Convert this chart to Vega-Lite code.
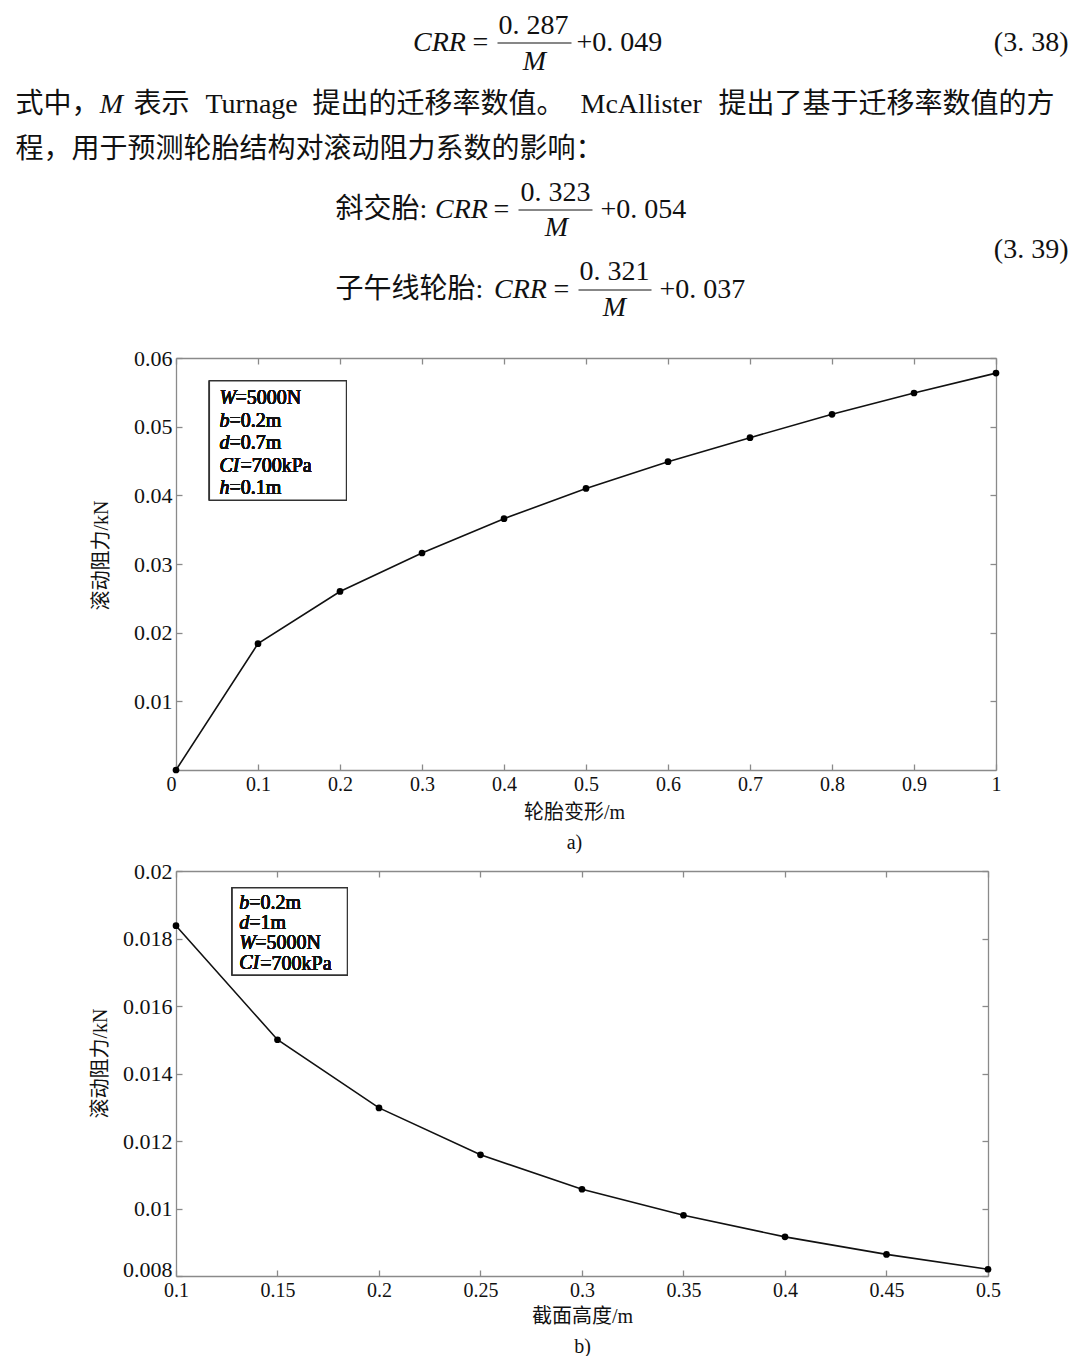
{
  "$schema": "https://vega.github.io/schema/vega-lite/v6.json",
  "background": "white",
  "padding": {"left": 15, "top": 0, "right": 0, "bottom": 0},
  "autosize": {"type": "pad"},
  "bounds": "flush",
  "spacing": 101,
  "datasets": {
    "page": [
      {"t": "CRR", "x": 439, "y": 43, "role": "var"},
      {"t": "M", "x": 534, "y": 62, "role": "var"},
      {"t": "M", "x": 111, "y": 105, "role": "var"},
      {"t": "CRR", "x": 461, "y": 210, "role": "var"},
      {"t": "M", "x": 556, "y": 228, "role": "var"},
      {"t": "CRR", "x": 520, "y": 290, "role": "var"},
      {"t": "M", "x": 614, "y": 308, "role": "var"},
      {"t": "=", "x": 480, "y": 43, "role": "mid"},
      {"t": "0. 287", "x": 533, "y": 26, "role": "mid"},
      {"t": "=", "x": 501, "y": 210, "role": "mid"},
      {"t": "0. 323", "x": 555, "y": 193, "role": "mid"},
      {"t": "=", "x": 561, "y": 290, "role": "mid"},
      {"t": "0. 321", "x": 614, "y": 272, "role": "mid"},
      {"t": "+0. 049", "x": 576, "y": 43, "role": "start"},
      {"t": "+0. 054", "x": 600, "y": 210, "role": "start"},
      {"t": "+0. 037", "x": 659, "y": 290, "role": "start"},
      {"t": "式中，", "x": 15, "y": 105, "role": "start"},
      {"t": "表示", "x": 133, "y": 105, "role": "start"},
      {"t": "Turnage", "x": 205, "y": 105, "role": "start"},
      {"t": "提出的迁移率数值。", "x": 312, "y": 105, "role": "start"},
      {"t": "McAllister", "x": 580, "y": 105, "role": "start"},
      {"t": "提出了基于迁移率数值的方", "x": 718, "y": 105, "role": "start"},
      {"t": "程，用于预测轮胎结构对滚动阻力系数的影响：", "x": 15, "y": 150, "role": "start"},
      {"t": "斜交胎:", "x": 335, "y": 210, "role": "start"},
      {"t": "子午线轮胎:", "x": 335, "y": 290, "role": "start"},
      {"t": "(3. 38)", "x": 1068, "y": 43, "role": "end"},
      {"t": "(3. 39)", "x": 1068, "y": 250, "role": "end"}
    ],
    "bars": [
      {"x": 497, "x2": 571, "y": 43},
      {"x": 518, "x2": 592, "y": 210},
      {"x": 578, "x2": 651, "y": 290}
    ]
  },
  "vconcat": [
    {
      "width": 820,
      "height": 257,
      "encoding": {
        "x": {"field": "x", "type": "quantitative", "scale": {"domain": [175.5, 995.5], "nice": false, "zero": false}, "axis": null},
        "y": {"field": "y", "type": "quantitative", "scale": {"domain": [0, 257], "reverse": true, "nice": false, "zero": false}, "axis": null}
      },
      "layer": [
        {
          "data": {"name": "page"},
          "transform": [{"filter": "datum.role === 'var'"}],
          "mark": {"type": "text", "align": "center", "baseline": "middle", "font": "Liberation Serif", "fontStyle": "italic", "fontSize": 28, "color": "#111"},
          "encoding": {"text": {"field": "t"}}
        },
        {
          "data": {"name": "page"},
          "transform": [{"filter": "datum.role === 'mid'"}],
          "mark": {"type": "text", "align": "center", "baseline": "middle", "font": "Liberation Serif, Noto Sans CJK SC", "fontSize": 28, "color": "#111"},
          "encoding": {"text": {"field": "t"}}
        },
        {
          "data": {"name": "page"},
          "transform": [{"filter": "datum.role === 'start'"}],
          "mark": {"type": "text", "align": "left", "baseline": "middle", "font": "Liberation Serif, Noto Sans CJK SC", "fontSize": 28, "color": "#111"},
          "encoding": {"text": {"field": "t"}}
        },
        {
          "data": {"name": "page"},
          "transform": [{"filter": "datum.role === 'end'"}],
          "mark": {"type": "text", "align": "right", "baseline": "middle", "font": "Liberation Serif, Noto Sans CJK SC", "fontSize": 28, "color": "#111"},
          "encoding": {"text": {"field": "t"}}
        },
        {
          "data": {"name": "bars"},
          "mark": {"type": "rule", "color": "#111", "strokeWidth": 1.2},
          "encoding": {"x2": {"field": "x2"}}
        }
      ]
    },
    {
      "width": 820,
      "height": 412,
      "data": {"values": [
        {"d": 0, "f": 0},
        {"d": 0.1, "f": 0.0184},
        {"d": 0.2, "f": 0.0260},
        {"d": 0.3, "f": 0.0316},
        {"d": 0.4, "f": 0.0366},
        {"d": 0.5, "f": 0.0410},
        {"d": 0.6, "f": 0.0449},
        {"d": 0.7, "f": 0.0484},
        {"d": 0.8, "f": 0.0518},
        {"d": 0.9, "f": 0.0549},
        {"d": 1.0, "f": 0.0578}
      ]},
      "layer": [
        {
          "mark": {"type": "line", "color": "#111", "strokeWidth": 1.6},
          "encoding": {
            "x": {"field": "d", "type": "quantitative", "scale": {"domain": [0, 1], "nice": false, "zero": false},
                  "axis": {"values": [0, 0.1, 0.2, 0.3, 0.4, 0.5, 0.6, 0.7, 0.8, 0.9, 1], "format": "~g", "title": ["轮胎变形/m", "a)"], "titleX": 398, "titleLineHeight": 30, "titlePadding": 8,
                           "labelAlign": {"condition": {"test": "datum.value === 0", "value": "right"}, "value": "center"}}},
            "y": {"field": "f", "type": "quantitative", "scale": {"domain": [0, 0.06], "nice": false, "zero": false},
                  "axis": {"values": [0.01, 0.02, 0.03, 0.04, 0.05, 0.06], "format": ".2~f", "title": "滚动阻力/kN", "titleY": 197, "titlePadding": 22}}
          }
        },
        {
          "mark": {"type": "point", "filled": true, "color": "#000", "size": 45, "opacity": 1},
          "encoding": {
            "x": {"field": "d", "type": "quantitative", "axis": {"orient": "top", "labels": false, "title": null, "values": [0, 0.1, 0.2, 0.3, 0.4, 0.5, 0.6, 0.7, 0.8, 0.9, 1]}},
            "y": {"field": "f", "type": "quantitative", "axis": {"orient": "right", "labels": false, "title": null, "values": [0.01, 0.02, 0.03, 0.04, 0.05, 0.06]}}
          }
        },
        {
          "mark": {"type": "rect", "fill": "white", "stroke": "#333", "strokeWidth": 1.2},
          "encoding": {
            "x": {"datum": 0.0408, "type": "quantitative", "axis": null},
            "x2": {"datum": 0.2078},
            "y": {"datum": 0.05665, "type": "quantitative", "axis": null},
            "y2": {"datum": 0.03932}
          }
        },
        {
          "mark": {"type": "text", "align": "left", "baseline": "top", "font": "Liberation Serif", "fontStyle": "italic", "fontSize": 20, "lineHeight": 22.5, "color": "#111"},
          "encoding": {
            "x": {"datum": 0.053, "type": "quantitative", "axis": null},
            "y": {"datum": 0.0556, "type": "quantitative", "axis": null},
            "text": {"value": ["W", "b", "d", "CI", "h"]}
          }
        },
        {
          "mark": {"type": "text", "align": "left", "baseline": "top", "dx": 16, "font": "Liberation Serif", "fontSize": 20, "color": "#111"},
          "encoding": {
            "x": {"datum": 0.053, "type": "quantitative", "axis": null},
            "y": {"datum": 0.0556, "type": "quantitative", "axis": null},
            "text": {"value": "=5000N"}
          }
        },
        {
          "mark": {"type": "text", "align": "left", "baseline": "top", "dx": 10, "font": "Liberation Serif", "fontSize": 20, "color": "#111"},
          "encoding": {
            "x": {"datum": 0.053, "type": "quantitative", "axis": null},
            "y": {"datum": 0.052323, "type": "quantitative", "axis": null},
            "text": {"value": "=0.2m"}
          }
        },
        {
          "mark": {"type": "text", "align": "left", "baseline": "top", "dx": 10, "font": "Liberation Serif", "fontSize": 20, "color": "#111"},
          "encoding": {
            "x": {"datum": 0.053, "type": "quantitative", "axis": null},
            "y": {"datum": 0.049047, "type": "quantitative", "axis": null},
            "text": {"value": "=0.7m"}
          }
        },
        {
          "mark": {"type": "text", "align": "left", "baseline": "top", "dx": 21, "font": "Liberation Serif", "fontSize": 20, "color": "#111"},
          "encoding": {
            "x": {"datum": 0.053, "type": "quantitative", "axis": null},
            "y": {"datum": 0.04577, "type": "quantitative", "axis": null},
            "text": {"value": "=700kPa"}
          }
        },
        {
          "mark": {"type": "text", "align": "left", "baseline": "top", "dx": 10, "font": "Liberation Serif", "fontSize": 20, "color": "#111"},
          "encoding": {
            "x": {"datum": 0.053, "type": "quantitative", "axis": null},
            "y": {"datum": 0.042493, "type": "quantitative", "axis": null},
            "text": {"value": "=0.1m"}
          }
        }
      ],
      "resolve": {"axis": {"x": "independent", "y": "independent"}}
    },
    {
      "width": 812,
      "height": 405,
      "data": {"values": [
        {"h": 0.1, "f": 0.01838},
        {"h": 0.15, "f": 0.01500},
        {"h": 0.2, "f": 0.01298},
        {"h": 0.25, "f": 0.01159},
        {"h": 0.3, "f": 0.01057},
        {"h": 0.35, "f": 0.00980},
        {"h": 0.4, "f": 0.00916},
        {"h": 0.45, "f": 0.00864},
        {"h": 0.5, "f": 0.00820}
      ]},
      "layer": [
        {
          "mark": {"type": "line", "color": "#111", "strokeWidth": 1.6},
          "encoding": {
            "x": {"field": "h", "type": "quantitative", "scale": {"domain": [0.1, 0.5], "nice": false, "zero": false},
                  "axis": {"values": [0.1, 0.15, 0.2, 0.25, 0.3, 0.35, 0.4, 0.45, 0.5], "format": "~g", "title": ["截面高度/m", "b)"], "titleLineHeight": 30, "titlePadding": 6}},
            "y": {"field": "f", "type": "quantitative", "scale": {"domain": [0.008, 0.02], "nice": false, "zero": false},
                  "axis": {"values": [0.008, 0.01, 0.012, 0.014, 0.016, 0.018, 0.02], "format": ".3~f", "title": "滚动阻力/kN", "titleY": 192, "titlePadding": 12,
                           "labelBaseline": {"condition": {"test": "datum.value < 0.009", "value": "alphabetic"}, "value": "middle"}}}
          }
        },
        {
          "mark": {"type": "point", "filled": true, "color": "#000", "size": 45, "opacity": 1},
          "encoding": {
            "x": {"field": "h", "type": "quantitative", "axis": {"orient": "top", "labels": false, "title": null, "values": [0.1, 0.15, 0.2, 0.25, 0.3, 0.35, 0.4, 0.45, 0.5]}},
            "y": {"field": "f", "type": "quantitative", "axis": {"orient": "right", "labels": false, "title": null, "values": [0.008, 0.01, 0.012, 0.014, 0.016, 0.018, 0.02]}}
          }
        },
        {
          "mark": {"type": "rect", "fill": "white", "stroke": "#333", "strokeWidth": 1.2},
          "encoding": {
            "x": {"datum": 0.1277, "type": "quantitative", "axis": null},
            "x2": {"datum": 0.1844},
            "y": {"datum": 0.01950, "type": "quantitative", "axis": null},
            "y2": {"datum": 0.01692}
          }
        },
        {
          "mark": {"type": "text", "align": "left", "baseline": "top", "font": "Liberation Serif", "fontStyle": "italic", "fontSize": 20, "lineHeight": 20.3, "color": "#111"},
          "encoding": {
            "x": {"datum": 0.1312, "type": "quantitative", "axis": null},
            "y": {"datum": 0.01936, "type": "quantitative", "axis": null},
            "text": {"value": ["b", "d", "W", "CI"]}
          }
        },
        {
          "mark": {"type": "text", "align": "left", "baseline": "top", "dx": 10, "font": "Liberation Serif", "fontSize": 20, "color": "#111"},
          "encoding": {
            "x": {"datum": 0.1312, "type": "quantitative", "axis": null},
            "y": {"datum": 0.01936, "type": "quantitative", "axis": null},
            "text": {"value": "=0.2m"}
          }
        },
        {
          "mark": {"type": "text", "align": "left", "baseline": "top", "dx": 10, "font": "Liberation Serif", "fontSize": 20, "color": "#111"},
          "encoding": {
            "x": {"datum": 0.1312, "type": "quantitative", "axis": null},
            "y": {"datum": 0.018758, "type": "quantitative", "axis": null},
            "text": {"value": "=1m"}
          }
        },
        {
          "mark": {"type": "text", "align": "left", "baseline": "top", "dx": 16, "font": "Liberation Serif", "fontSize": 20, "color": "#111"},
          "encoding": {
            "x": {"datum": 0.1312, "type": "quantitative", "axis": null},
            "y": {"datum": 0.018156, "type": "quantitative", "axis": null},
            "text": {"value": "=5000N"}
          }
        },
        {
          "mark": {"type": "text", "align": "left", "baseline": "top", "dx": 21, "font": "Liberation Serif", "fontSize": 20, "color": "#111"},
          "encoding": {
            "x": {"datum": 0.1312, "type": "quantitative", "axis": null},
            "y": {"datum": 0.017553, "type": "quantitative", "axis": null},
            "text": {"value": "=700kPa"}
          }
        }
      ],
      "resolve": {"axis": {"x": "independent", "y": "independent"}}
    }
  ],
  "config": {
    "view": {"stroke": null},
    "axis": {
      "grid": false,
      "domainColor": "#8a8a8a",
      "domainWidth": 1.3,
      "tickColor": "#8a8a8a",
      "tickWidth": 1.3,
      "tickSize": -6,
      "labelFont": "Liberation Serif",
      "labelColor": "#111",
      "labelPadding": 10,
      "labelFlush": false,
      "labelOverlap": false,
      "labelBound": false,
      "titleFont": "Liberation Serif, Noto Sans CJK SC",
      "titleFontSize": 20,
      "titleFontWeight": "normal",
      "titleColor": "#111"
    },
    "axisX": {"labelFontSize": 20},
    "axisY": {"labelFontSize": 22}
  }
}
